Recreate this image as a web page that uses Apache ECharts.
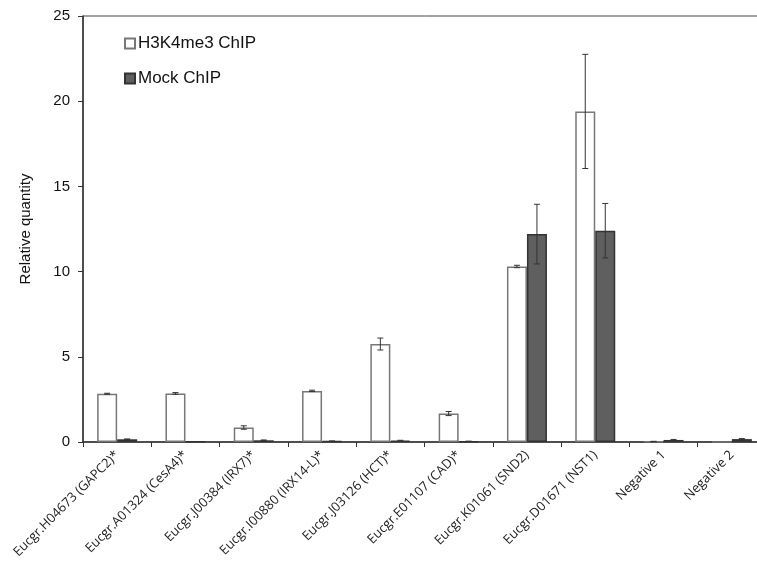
<!DOCTYPE html>
<html>
<head>
<meta charset="utf-8">
<script src="https://cdn.jsdelivr.net/npm/echarts@6/dist/echarts.min.js"></script>
<style>html,body{margin:0;padding:0;background:#fff;overflow:hidden;width:757px;height:564px}#c{width:772px;height:564px}</style>
</head>
<body>
<div id="c"></div>
<script>
var categories = ['Eucgr.H04673 (GAPC2)*','Eucgr.A01324 (CesA4)*','Eucgr.J00384 (IRX7)*','Eucgr.I00880 (IRX14-L)*','Eucgr.J03126 (HCT)*','Eucgr.E01107 (CAD)*','Eucgr.K01061 (SND2)','Eucgr.D01671 (NST1)','Negative 1','Negative 2'];
var h3k4me3 = [2.83, 2.85, 0.85, 3.0, 5.75, 1.67, 10.3, 19.4, 0.03, 0.01];
var h3k4me3Err = [0.03, 0.05, 0.1, 0.04, 0.35, 0.12, 0.07, 3.35, 0.01, 0.0];
var mock = [0.16, 0.02, 0.1, 0.05, 0.08, 0.04, 12.2, 12.4, 0.12, 0.17];
var mockErr = [0.02, 0.0, 0.02, 0.01, 0.02, 0.01, 1.75, 1.6, 0.03, 0.03];
var yTicks = [0, 5, 10, 15, 20, 25];

function errSeries(vals, errs, offset) {
  return {
    type: 'custom',
    z: 5,
    silent: true,
    data: vals.map(function (v, i) { return [i, v, errs[i]]; }),
    renderItem: function (params, api) {
      var i = api.value(0), v = api.value(1), e = api.value(2);
      if (e <= 0) return null;
      var hi = api.coord([i, v + e]);
      var lo = api.coord([i, v - e]);
      var x = hi[0] + offset;
      var cap = 3;
      var st = { stroke: '#333', lineWidth: 1 };
      return {
        type: 'group',
        children: [
          { type: 'line', shape: { x1: x, y1: hi[1], x2: x, y2: lo[1] }, style: st },
          { type: 'line', shape: { x1: x - cap, y1: hi[1], x2: x + cap, y2: hi[1] }, style: st },
          { type: 'line', shape: { x1: x - cap, y1: lo[1], x2: x + cap, y2: lo[1] }, style: st }
        ]
      };
    }
  };
}

var chart = echarts.init(document.getElementById('c'));
chart.setOption({
  animation: false,
  backgroundColor: '#fff',
  grid: { left: 83, right: 6, top: 16, bottom: 122, show: true, borderColor: '#444', borderWidth: 1 },
  legend: {
    orient: 'vertical', left: 119, top: 30, itemGap: 18, itemWidth: 10, itemHeight: 10, icon: 'rect',
    textStyle: { fontFamily: 'Liberation Sans, Arial, sans-serif', fontSize: 17, color: '#111', padding: [0, 0, 0, -2] },
    data: ['H3K4me3 ChIP', 'Mock ChIP']
  },
  xAxis: {
    type: 'category', data: categories,
    axisLine: { lineStyle: { color: '#333', width: 1.5 } },
    axisTick: { show: true, length: 5, lineStyle: { color: '#333' } },
    axisLabel: { rotate: 45, interval: 0, margin: 11, fontFamily: 'Open Sans, sans-serif', fontSize: 13, color: '#222' }
  },
  yAxis: {
    type: 'value', min: 0, max: 25, interval: 5,
    name: 'Relative quantity', nameLocation: 'middle', nameGap: 50,
    nameTextStyle: { fontFamily: 'Liberation Sans, Arial, sans-serif', fontSize: 15, color: '#111' },
    splitLine: { show: false },
    axisLine: { show: true, lineStyle: { color: '#333', width: 1.5 } },
    axisTick: { show: true, length: 5, lineStyle: { color: '#333' } },
    axisLabel: { margin: 13, fontFamily: 'Liberation Sans, Arial, sans-serif', fontSize: 15, color: '#111',
      formatter: function (v) { return yTicks.indexOf(v) >= 0 ? String(v) : ''; } }
  },
  series: [
    { name: 'H3K4me3 ChIP', type: 'bar', data: h3k4me3, barWidth: 20, barGap: '0%',
      itemStyle: { color: '#fff', borderColor: '#777', borderWidth: 1.5 } },
    { name: 'Mock ChIP', type: 'bar', data: mock, barWidth: 20, barGap: '0%',
      itemStyle: { color: '#5f5f5f', borderColor: '#333', borderWidth: 1.5 } },
    errSeries(h3k4me3, h3k4me3Err, -10),
    errSeries(mock, mockErr, 10)
  ]
});
</script>
</body>
</html>
